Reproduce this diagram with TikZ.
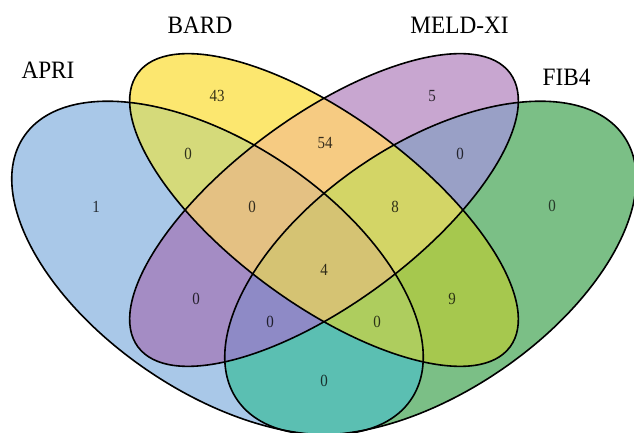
\documentclass[tikz,border=0pt]{standalone}
\usepackage{fontspec}
\setmainfont{Liberation Serif}
\usepackage{graphicx}
% region colours
\definecolor{cA}{HTML}{A9C8E8}
\definecolor{cB}{HTML}{FCE76F}
\definecolor{cM}{HTML}{C8A6D0}
\definecolor{cF}{HTML}{7BBF86}
\definecolor{cAB}{HTML}{D5DA7A}
\definecolor{cAM}{HTML}{A48CC4}
\definecolor{cAF}{HTML}{5BBFB2}
\definecolor{cBM}{HTML}{F6CB82}
\definecolor{cBF}{HTML}{A6C84E}
\definecolor{cMF}{HTML}{99A0C6}
\definecolor{cABM}{HTML}{E4C183}
\definecolor{cABF}{HTML}{AECD5E}
\definecolor{cAMF}{HTML}{8E8AC6}
\definecolor{cBMF}{HTML}{D3D566}
\definecolor{cABMF}{HTML}{D5C373}
\newcommand\vclipA{\clip[rotate around={-34.2:(217.5,165)}] (217.5,165) ellipse (234 and 124);}
\newcommand\vclipF{\clip[rotate around={34.2:(430.5,165)}] (430.5,165) ellipse (234 and 124);}
\newcommand\vclipB{\clip[rotate around={-36.3:(324,223)}] (324,223) ellipse (231 and 94);}
\newcommand\vclipM{\clip[rotate around={36.3:(324,223)}] (324,223) ellipse (231 and 94);}
\newcommand\vregion[2]{\begin{scope}#1\fill[#2] (0,0) rectangle (634,433);\end{scope}}
\begin{document}
\begin{tikzpicture}[x=1pt,y=1pt,
  setlabel/.style={inner sep=0pt, font=\fontsize{25}{25}\selectfont},
  num/.style={inner sep=0pt, font=\fontsize{17}{17}\selectfont},
  outline/.style={draw=black, line width=1.6pt}]
\useasboundingbox (0,0) rectangle (634,433);
\begin{scope}
\clip (0,0) rectangle (634,433);
% singles
\vregion{\vclipA}{cA}
\vregion{\vclipB}{cB}
\vregion{\vclipM}{cM}
\vregion{\vclipF}{cF}
% pairs
\vregion{\vclipA\vclipB}{cAB}
\vregion{\vclipA\vclipM}{cAM}
\vregion{\vclipA\vclipF}{cAF}
\vregion{\vclipB\vclipM}{cBM}
\vregion{\vclipB\vclipF}{cBF}
\vregion{\vclipM\vclipF}{cMF}
% triples
\vregion{\vclipA\vclipB\vclipM}{cABM}
\vregion{\vclipA\vclipB\vclipF}{cABF}
\vregion{\vclipA\vclipM\vclipF}{cAMF}
\vregion{\vclipB\vclipM\vclipF}{cBMF}
% all four
\vregion{\vclipA\vclipB\vclipM\vclipF}{cABMF}
% outlines
\draw[outline,rotate around={-34.2:(217.5,165)}] (217.5,165) ellipse (234 and 124);
\draw[outline,rotate around={34.2:(430.5,165)}] (430.5,165) ellipse (234 and 124);
\draw[outline,rotate around={-36.3:(324,223)}] (324,223) ellipse (231 and 94);
\draw[outline,rotate around={36.3:(324,223)}] (324,223) ellipse (231 and 94);
\end{scope}
% set names
\node[setlabel] (lA) at (48,363) {\scalebox{0.93}[1]{APRI}};
\node[setlabel] (lB) at (200,408) {\scalebox{0.93}[1]{BARD}};
\node[setlabel] (lM) at (459.5,408) {\scalebox{0.93}[1]{MELD-XI}};
\node[setlabel] (lF) at (566.5,356) {\scalebox{0.93}[1]{FIB4}};
% counts
\node[num, text=cA!20!black] (nA) at (96,226) {\scalebox{0.88}[1]{1}};
\node[num, text=cB!22!black] (nB) at (217,337) {\scalebox{0.88}[1]{43}};
\node[num, text=cM!22!black] (nM) at (432,337) {\scalebox{0.88}[1]{5}};
\node[num, text=cF!30!black] (nF) at (552,227) {\scalebox{0.88}[1]{0}};
\node[num, text=cAB!22!black] (nAB) at (188,279) {\scalebox{0.88}[1]{0}};
\node[num, text=cBM!22!black] (nBM) at (325,290) {\scalebox{0.88}[1]{54}};
\node[num, text=cMF!22!black] (nMF) at (460,279) {\scalebox{0.88}[1]{0}};
\node[num, text=cABM!22!black] (nABM) at (252,226) {\scalebox{0.88}[1]{0}};
\node[num, text=cBMF!22!black] (nBMF) at (395,226) {\scalebox{0.88}[1]{8}};
\node[num, text=cABMF!22!black] (nABMF) at (324,163) {\scalebox{0.88}[1]{4}};
\node[num, text=cAM!22!black] (nAM) at (196,134) {\scalebox{0.88}[1]{0}};
\node[num, text=cBF!25!black] (nBF) at (452,134) {\scalebox{0.88}[1]{9}};
\node[num, text=cAMF!22!black] (nAMF) at (270,111) {\scalebox{0.88}[1]{0}};
\node[num, text=cABF!25!black] (nABF) at (377,111) {\scalebox{0.88}[1]{0}};
\node[num, text=cAF!25!black] (nAF) at (324,52) {\scalebox{0.88}[1]{0}};
\end{tikzpicture}
\end{document}
